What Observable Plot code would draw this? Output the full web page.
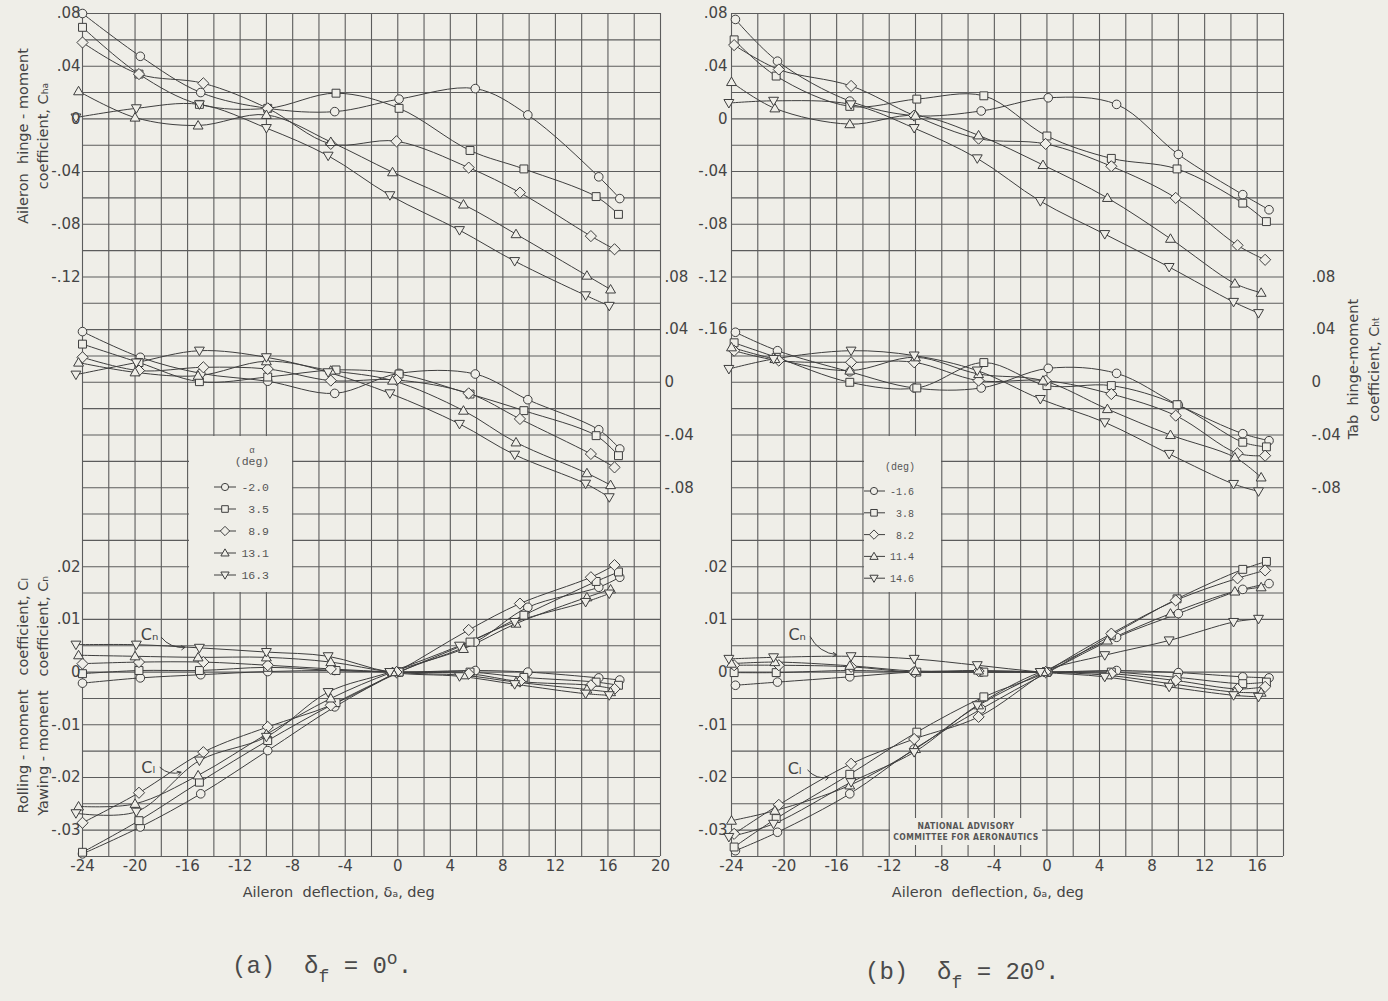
<!DOCTYPE html>
<html><head><meta charset="utf-8">
<script src="https://cdn.jsdelivr.net/npm/d3@7"></script>
<script src="https://cdn.jsdelivr.net/npm/@observablehq/plot@0.6"></script>
<style>
  body{margin:0;background:#efeee8;}
  #page{position:relative;width:1388px;height:1001px;overflow:hidden;background:#efeee8;color:#444;font-family:"DejaVu Sans",sans-serif;}
  .panel{position:absolute;top:0;}
  .ovl{position:absolute;}
  .caption{position:absolute;font-family:"Liberation Mono",monospace;font-size:24px;color:#4a4a4a;white-space:pre;line-height:30px;}
  .caption sub{font-size:18px;vertical-align:-9px;}
  .caption sup{font-size:18px;vertical-align:9px;}
  .naca{position:absolute;background:#efeee8;font-family:"DejaVu Sans Condensed","DejaVu Sans",sans-serif;font-weight:bold;font-size:8.5px;color:#555;text-align:center;line-height:11px;letter-spacing:0.4px;padding-top:3px;box-sizing:border-box;}
</style></head>
<body><div id="page"></div>
<script>
// ---------------- data ----------------
const alphaA = ["-2.0", "3.5", "8.9", "13.1", "16.3"];
const alphaB = ["-1.6", "3.8", "8.2", "11.4", "14.6"];

// Panel (a): delta_f = 0 deg; one row per angle of attack
const deflA = [
  [-24, -19.6, -15.0, -9.9, -4.8, 0.1, 5.9, 9.9, 15.3, 16.9],
  [-24, -19.7, -15.1, -9.9, -4.7, 0.1, 5.5, 9.6, 15.1, 16.8],
  [-24, -19.7, -14.8, -9.9, -5.1, -0.1, 5.4, 9.3, 14.7, 16.5],
  [-24.3, -20, -15.2, -10, -5.1, -0.4, 5.0, 9.0, 14.4, 16.2],
  [-24.5, -19.9, -15.1, -10, -5.3, -0.6, 4.7, 8.9, 14.3, 16.1]
];
const chaA = [
  [0.080, 0.0475, 0.020, 0.008, 0.0055, 0.015, 0.023, 0.003, -0.044, -0.0605],
  [0.0695, 0.034, 0.011, 0.008, 0.0195, 0.008, -0.024, -0.038, -0.059, -0.0725],
  [0.058, 0.034, 0.027, 0.008, -0.019, -0.017, -0.037, -0.056, -0.089, -0.099],
  [0.021, 0.001, -0.005, 0.003, -0.0175, -0.0405, -0.065, -0.0875, -0.119, -0.1295],
  [0.001, 0.008, 0.011, -0.007, -0.028, -0.058, -0.0845, -0.108, -0.134, -0.142]
];
const chtA = [
  [0.0385, 0.019, 0.0068, 0.0008, -0.0084, 0.0068, 0.0063, -0.0132, -0.036, -0.0506],
  [0.029, 0.015, 0.0005, 0.004, 0.0094, 0.0063, -0.0089, -0.0215, -0.0405, -0.0557],
  [0.019, 0.0089, 0.0114, 0.0101, 0.0013, 0.0018, -0.0084, -0.0278, -0.0544, -0.0646],
  [0.015, 0.0076, 0.005, 0.016, 0.0089, 0.0013, -0.0215, -0.0456, -0.069, -0.078],
  [0.0058, 0.015, 0.024, 0.019, 0.0076, -0.0084, -0.0316, -0.055, -0.077, -0.0873]
];
const clA = [
  [-0.0345, -0.0294, -0.0231, -0.0149, -0.0066, 0, 0.0057, 0.0123, 0.0161, 0.018],
  [-0.0342, -0.0282, -0.0209, -0.013, -0.0058, 0, 0.0057, 0.0108, 0.0172, 0.019],
  [-0.0286, -0.0229, -0.0152, -0.0104, -0.0063, 0, 0.008, 0.013, 0.018, 0.0203],
  [-0.0255, -0.025, -0.0196, -0.0118, -0.005, 0, 0.0044, 0.0092, 0.0142, 0.0157],
  [-0.0268, -0.0265, -0.0168, -0.0123, -0.0038, 0, 0.005, 0.0095, 0.0133, 0.0149]
];
const cnA = [
  [-0.0021, -0.0011, -0.0005, 0.0001, 0.0003, 0, 0.0003, 0, -0.0011, -0.0015],
  [-0.0003, 0.0003, 0.0003, 0.0009, 0.0003, 0, 0, -0.001, -0.0019, -0.0025],
  [0.0016, 0.0019, 0.0019, 0.0013, 0.0006, 0, -0.0003, -0.0018, -0.0025, -0.0032],
  [0.0032, 0.003, 0.0028, 0.0028, 0.0019, 0, -0.0006, -0.0019, -0.0033, -0.0038],
  [0.0052, 0.0052, 0.0046, 0.0038, 0.003, 0, -0.0008, -0.0023, -0.0041, -0.0044]
];

// Panel (b): delta_f = 20 deg
const deflB = [
  [-23.7, -20.5, -15, -10.1, -5, 0.1, 5.3, 10, 14.9, 16.9],
  [-23.8, -20.6, -15, -9.9, -4.8, 0, 4.9, 9.9, 14.9, 16.7],
  [-23.8, -20.4, -14.9, -10.1, -5.2, -0.1, 4.9, 9.8, 14.5, 16.6],
  [-24, -20.7, -15, -10, -5.2, -0.3, 4.6, 9.4, 14.3, 16.3],
  [-24.2, -20.8, -14.9, -10.1, -5.3, -0.5, 4.4, 9.3, 14.2, 16.1]
];
const chaB = [
  [0.0755, 0.0438, 0.0135, 0.0025, 0.006, 0.016, 0.011, -0.027, -0.0575, -0.069],
  [0.06, 0.0325, 0.0095, 0.015, 0.0175, -0.013, -0.03, -0.038, -0.064, -0.078],
  [0.056, 0.0375, 0.025, 0.0025, -0.015, -0.019, -0.036, -0.06, -0.096, -0.107],
  [0.028, 0.008, -0.004, 0.0025, -0.0125, -0.035, -0.06, -0.091, -0.125, -0.132],
  [0.012, 0.0137, 0.011, -0.007, -0.03, -0.0625, -0.0875, -0.1125, -0.139, -0.1475]
];
const chtB = [
  [0.038, 0.024, 0.008, -0.0043, -0.0043, 0.0106, 0.0068, -0.0172, -0.039, -0.0443],
  [0.030, 0.019, 0, -0.0043, 0.015, -0.0025, -0.0025, -0.017, -0.0455, -0.049],
  [0.024, 0.0165, 0.0152, 0.0152, 0.0013, 0.0013, -0.0089, -0.0253, -0.0539, -0.0557],
  [0.0266, 0.0177, 0.0089, 0.019, 0.0063, 0.0013, -0.0203, -0.040, -0.057, -0.0722],
  [0.0101, 0.0177, 0.024, 0.0203, 0.0089, -0.0127, -0.0304, -0.0544, -0.0772, -0.0828]
];
const clB = [
  [-0.0339, -0.0304, -0.0231, -0.0146, -0.007, 0, 0.0066, 0.0111, 0.0157, 0.0168],
  [-0.0332, -0.0278, -0.0194, -0.0114, -0.0047, 0, 0.007, 0.0139, 0.0195, 0.021],
  [-0.0307, -0.0252, -0.0174, -0.0127, -0.0085, 0, 0.0073, 0.0136, 0.0178, 0.0193],
  [-0.0282, -0.0263, -0.0215, -0.0146, -0.0063, 0, 0.006, 0.0111, 0.0153, 0.0161],
  [-0.0313, -0.0288, -0.0209, -0.0152, -0.0063, 0, 0.0032, 0.006, 0.0095, 0.0101]
];
const cnB = [
  [-0.0025, -0.0019, -0.0009, 0, 0, 0, 0.0003, -0.0001, -0.0009, -0.0011],
  [-0.0001, -0.0001, 0.0003, 0, 0, 0, 0, -0.001, -0.0022, -0.0019],
  [0.0013, 0.0013, 0.001, 0, 0.0002, 0, -0.0003, -0.0016, -0.0032, -0.0028],
  [0.0016, 0.0019, 0.0012, 0.0002, 0.0003, 0, -0.0006, -0.0022, -0.0038, -0.0039],
  [0.0025, 0.0028, 0.003, 0.0025, 0.0013, 0, -0.0009, -0.0028, -0.0044, -0.0047]
];

// tick labels
const xTicksA = [-24, -20, -16, -12, -8, -4, 0, 4, 8, 12, 16, 20];
const xTicksB = [-24, -20, -16, -12, -8, -4, 0, 4, 8, 12, 16];
const chaTicksA = [0.08, 0.04, 0, -0.04, -0.08, -0.12];
const chaTicksB = [0.08, 0.04, 0, -0.04, -0.08, -0.12, -0.16];
const chtTicks = [0.08, 0.04, 0, -0.04, -0.08];
const clTicks = [0.02, 0.01, 0, -0.01, -0.02, -0.03];

// annotation labels (data space of the C_l / C_n chart)
const noteA = [{t: "Cₙ", x: -18.9, v: 0.0071, x1: -18.0, v1: 0.0066, x2: -16.2, v2: 0.0047},
               {t: "Cₗ", x: -19.0, v: -0.0181, x1: -18.1, v1: -0.0181, x2: -16.5, v2: -0.0190}];
const noteB = [{t: "Cₙ", x: -19.0, v: 0.0071, x1: -18.0, v1: 0.0067, x2: -16.0, v2: 0.0033},
               {t: "Cₗ", x: -19.2, v: -0.0183, x1: -18.2, v1: -0.0186, x2: -16.6, v2: -0.0200}];

// ---------------- styling / helpers ----------------
const paper = "#efeee8", ink = "#3e3e3e", gridInk = "#5c5c5c";
// the three charts share one grid: map each coefficient into the top (C_ha) scale
const fromCha = v => v;
const fromCht = v => -0.20 + v;
const fromCl = v => -0.42 + 4 * v;
const fmt = v => v === 0 ? "0" : (v < 0 ? "-" : "") + Math.abs(v).toFixed(2).replace(/^0/, "");

const R = s => Math.sqrt(s / Math.PI);
const symCircle = {draw(c, s) { const r = R(s); c.moveTo(r, 0); c.arc(0, 0, r, 0, 2 * Math.PI); }};
const symSquare = {draw(c, s) { const r = R(s) * 0.92; c.rect(-r, -r, 2 * r, 2 * r); }};
const symDiamond = {draw(c, s) { const r = R(s) * 1.3; c.moveTo(0, -r); c.lineTo(r, 0); c.lineTo(0, r); c.lineTo(-r, 0); c.closePath(); }};
const symTriUp = {draw(c, s) { const r = R(s) * 1.15; c.moveTo(0, -r); c.lineTo(r, r * 0.72); c.lineTo(-r, r * 0.72); c.closePath(); }};
const symTriDown = {draw(c, s) { const r = R(s) * 1.15; c.moveTo(0, r); c.lineTo(r, -r * 0.72); c.lineTo(-r, -r * 0.72); c.closePath(); }};
const symbols = [symCircle, symSquare, symDiamond, symTriUp, symTriDown];

function rowsFor(defl, vals, kind, map) {
  const out = [];
  defl.forEach((ds, s) => ds.forEach((d, j) => {
    const v = vals[s][j];
    if (v != null) out.push({s, kind, d, v, y: map(v), key: kind + s});
  }));
  return out;
}

function makePanel(o) {
  const rows = [
    ...rowsFor(o.defl, o.cha, "ha", fromCha),
    ...rowsFor(o.defl, o.cht, "ht", fromCht),
    ...rowsFor(o.defl, o.cl, "l", fromCl),
    ...rowsFor(o.defl, o.cn, "n", fromCl)
  ];
  const gridX = d3.range(o.xDomain[0], o.xDomain[1] + 0.001, 2);
  const gridY = d3.range(0, 33).map(k => 0.08 - 0.02 * k);
  const marks = [
    Plot.ruleX(gridX, {stroke: gridInk, strokeWidth: 1.1}),
    Plot.ruleY(gridY, {stroke: gridInk, strokeWidth: 1.1}),
    Plot.line(rows, {x: "d", y: "y", z: "key", curve: "catmull-rom", stroke: ink, strokeWidth: 1}),
    ...symbols.map((sym, i) => Plot.dot(rows.filter(r => r.s === i), {
      x: "d", y: "y", symbol: sym, r: 4.3, fill: paper, stroke: ink, strokeWidth: 1
    })),
    Plot.axisX(o.xTicks, {anchor: "bottom", tickSize: 0, tickPadding: 4, label: null, tickFormat: d => String(d), fontSize: 15}),
    Plot.axisY(o.chaTicks, {anchor: "left", tickSize: 0, tickPadding: o.leftPad, label: null, tickFormat: fmt, fontSize: 15}),
    Plot.axisY(clTicks.map(fromCl), {anchor: "left", tickSize: 0, tickPadding: o.leftPad, label: null,
      tickFormat: d => fmt(Math.round((d + 0.42) / 4 * 1000) / 1000), fontSize: 15}),
    Plot.axisY(chtTicks.map(fromCht), {anchor: "right", tickSize: 0, tickPadding: o.rightPad, label: null,
      tickFormat: d => fmt(Math.round((d + 0.20) * 100) / 100), fontSize: 15}),
    Plot.text(["Aileron  deflection, δₐ, deg"], {frameAnchor: "bottom", x: [-4.5], dy: 36, lineAnchor: "middle", fontSize: 14.5, fill: "#444"}),
    ...o.notes.map(n => Plot.text([n.t], {x: [n.x], y: [fromCl(n.v)], fontSize: 16, fill: "#444", textAnchor: "middle"})),
    ...o.notes.map(n => Plot.arrow([n], {x1: "x1", y1: d => fromCl(d.v1), x2: "x2", y2: d => fromCl(d.v2),
      bend: -30, headLength: 6, stroke: ink, strokeWidth: 1}))
  ];
  if (o.leftTitles) {
    marks.push(Plot.text(["Aileron  hinge - moment\ncoefficient, Cₕₐ"], {frameAnchor: "left", y: [-0.013], dx: -51,
      rotate: -90, textAnchor: "middle", lineAnchor: "middle", lineHeight: 1.4, fontSize: 14.5, fill: "#444", ariaLabel: "ytitle"}));
    marks.push(Plot.text(["Rolling - moment   coefficient, Cₗ\nYawing - moment   coefficient, Cₙ"], {frameAnchor: "left", y: [-0.438], dx: -51,
      rotate: -90, textAnchor: "middle", lineAnchor: "middle", lineHeight: 1.4, fontSize: 14.5, fill: "#444", ariaLabel: "ytitle"}));
  }
  if (o.rightTitle) {
    marks.push(Plot.text(["Tab  hinge-moment\ncoefficient, Cₕₜ"], {frameAnchor: "right", y: [-0.19], dx: 78,
      rotate: -90, textAnchor: "middle", lineAnchor: "middle", lineHeight: 1.5, fontSize: 14.5, fill: "#444", ariaLabel: "ytitle"}));
  }
  const svg = Plot.plot({
    width: o.width, height: 910,
    marginLeft: o.ml, marginRight: o.mr, marginTop: 13, marginBottom: 54,
    x: {domain: o.xDomain},
    y: {domain: [-0.56, 0.08]},
    style: {background: "transparent", color: "#444", fontFamily: "DejaVu Sans, sans-serif", fontSize: "15px"},
    marks
  });
  d3.select(svg).selectAll('g[aria-label="ytitle"] text').style("letter-spacing", "0.8px");
  return svg;
}

function makeLegend(page, o) {
  const svg = d3.select(page).append("svg").attr("class", "ovl")
    .style("left", o.left + "px").style("top", o.top + "px")
    .attr("width", o.w).attr("height", o.h);
  svg.append("rect").attr("width", o.w).attr("height", o.h).attr("fill", paper);
  const g = svg.append("g").attr("font-family", "Liberation Mono, monospace").attr("fill", "#555");
  if (o.alpha) g.append("text").attr("x", o.headX).attr("y", o.headY - 12).attr("text-anchor", "middle").attr("font-size", 9).text("α");
  g.append("text").attr("x", o.headX).attr("y", o.headY).attr("text-anchor", "middle").attr("font-size", o.fs).text("(deg)");
  o.labels.forEach((lab, i) => {
    const y = o.rowY0 + i * o.rowStep;
    g.append("line").attr("x1", o.symX - 11).attr("x2", o.symX + 11).attr("y1", y).attr("y2", y).attr("stroke", ink).attr("stroke-width", 1);
    const p = d3.path(); symbols[i].draw(p, Math.PI * 3.6 * 3.6);
    g.append("path").attr("d", p.toString()).attr("transform", `translate(${o.symX},${y})`).attr("fill", paper).attr("stroke", ink);
    g.append("text").attr("x", o.textX).attr("y", y + 4).attr("text-anchor", "end").attr("font-size", o.fs).text(lab);
  });
}

// ---------------- build page ----------------
const page = document.getElementById("page");

const divA = document.createElement("div"); divA.className = "panel"; divA.style.left = "0px";
divA.appendChild(makePanel({
  defl: deflA, cha: chaA, cht: chtA, cl: clA, cn: cnA,
  xDomain: [-24, 20], xTicks: xTicksA, chaTicks: chaTicksA,
  width: 694, ml: 82, mr: 34, leftPad: 2, rightPad: 4, notes: noteA, leftTitles: true
}));
page.appendChild(divA);

const divB = document.createElement("div"); divB.className = "panel"; divB.style.left = "694px";
divB.appendChild(makePanel({
  defl: deflB, cha: chaB, cht: chtB, cl: clB, cn: cnB,
  xDomain: [-24, 18], xTicks: xTicksB, chaTicks: chaTicksB,
  width: 694, ml: 37, mr: 105, leftPad: 4, rightPad: 28, notes: noteB, rightTitle: true
}));
page.appendChild(divB);

makeLegend(page, {left: 188.5, top: 435.8, w: 103, h: 156, alpha: true, headX: 63, headY: 29, fs: 11.5,
  labels: alphaA, rowY0: 51, rowStep: 22, symX: 36, textX: 80});
makeLegend(page, {left: 863.5, top: 435.8, w: 77, h: 156, alpha: false, headX: 36, headY: 34, fs: 10,
  labels: alphaB, rowY0: 55, rowStep: 21.8, symX: 10, textX: 50});

const naca = document.createElement("div"); naca.className = "naca";
Object.assign(naca.style, {left: "890px", top: "818px", width: "152px", height: "27px"});
naca.innerHTML = "NATIONAL ADVISORY<br>COMMITTEE FOR AERONAUTICS";
page.appendChild(naca);

const capA = document.createElement("div"); capA.className = "caption";
Object.assign(capA.style, {left: "232px", top: "944px"});
capA.innerHTML = "(a)  δ<sub>f</sub> = 0<sup>o</sup>.";
page.appendChild(capA);

const capB = document.createElement("div"); capB.className = "caption";
Object.assign(capB.style, {left: "865px", top: "950px"});
capB.innerHTML = "(b)  δ<sub>f</sub> = 20<sup>o</sup>.";
page.appendChild(capB);
</script>
</body></html>
